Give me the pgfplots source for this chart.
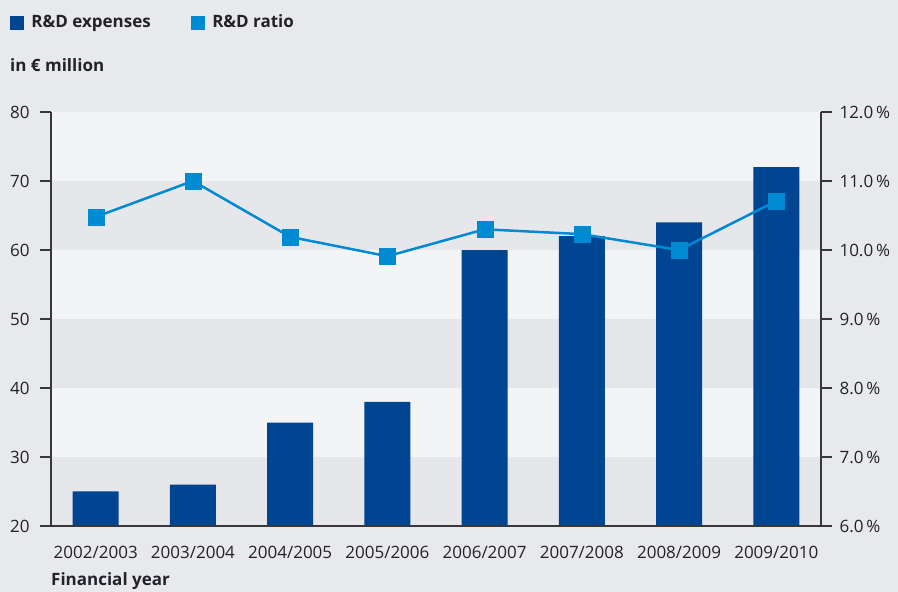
\documentclass[border=0pt]{standalone}
\usepackage{pgfplots}
\pgfplotsset{compat=1.18}
\usepackage{fontspec}
\setmainfont{Open Sans}
\definecolor{bgc}{RGB}{232,233,237}
\definecolor{bandlight}{RGB}{243,244,246}
\definecolor{banddark}{RGB}{230,231,235}
\definecolor{barblue}{RGB}{0,69,146}
\definecolor{ratioblue}{RGB}{0,138,210}
\definecolor{axisgray}{RGB}{55,55,60}
\definecolor{textc}{RGB}{34,34,40}
\pgfplotsset{
  common/.style={
    at={(51pt,66pt)}, anchor=south west,
    scale only axis, width=770pt, height=414pt,
    xmin=-0.46, xmax=7.46,
    axis line style={axisgray, line width=1.5pt, -},
    tick align=outside,
    major tick length=11pt,
    tick style={axisgray, line width=1.5pt},
    /pgf/number format/assume math mode=true,
    tick label style={text=textc},
  }
}
\begin{document}
\begin{tikzpicture}[font=\fontsize{17}{20}\selectfont]
\fill[bgc] (0,0) rectangle (898pt,592pt);
\begin{axis}[
  common,
  ymin=20, ymax=80,
  axis y line*=left, axis x line*=bottom,
  ytick={20,30,...,80},
  xtick={0,...,7},
  xticklabels={2002/2003,2003/2004,2004/2005,2005/2006,2006/2007,2007/2008,2008/2009,2009/2010},
  x tick style={draw=none},
  xticklabel style={yshift=-6pt},
  yticklabel style={xshift=-7pt},
  axis background/.style={fill=bandlight},
  axis on top,
]
\fill[banddark] (axis cs:-0.46,20) rectangle (axis cs:7.46,30);
\fill[banddark] (axis cs:-0.46,40) rectangle (axis cs:7.46,50);
\fill[banddark] (axis cs:-0.46,60) rectangle (axis cs:7.46,70);
\addplot[ybar, bar width=46pt, fill=barblue, draw=none] coordinates {
  (0,25) (1,26) (2,35) (3,38) (4,60) (5,62) (6,64) (7,72)
};
\end{axis}
\begin{axis}[
  common,
  ymin=6, ymax=12,
  axis y line*=right, axis x line=none,
  ytick={6,7,...,12},
  yticklabel={\pgfmathprintnumber[fixed,fixed zerofill,precision=1]{\tick}\,\%},
  yticklabel style={xshift=4pt},
  legend image code/.code={\fill[#1] (0pt,-6.5pt) rectangle (13pt,6.5pt);},
  legend columns=2,
  legend style={draw=none, fill=none, inner sep=0pt, outer sep=0pt,
    at={(axis description cs:-0.0532,1.239)}, anchor=north west,
    font=\fontsize{17}{20}\selectfont\bfseries, text=textc,
    /tikz/every odd column/.style={column sep=6pt},
    /tikz/every even column/.style={column sep=38pt}},
]
\addlegendimage{barblue}
\addlegendentry{R\&D expenses}
\addlegendimage{ratioblue}
\addlegendentry{R\&D ratio}
\addplot[ratioblue, line width=2.5pt, mark=square*, mark size=8pt,
  mark options={solid, line width=0.1pt}, forget plot] coordinates {
  (0,10.48) (1,11.0) (2,10.19) (3,9.91) (4,10.3) (5,10.23) (6,10.0) (7,10.71)
};
\end{axis}
\node[anchor=base west, inner sep=0pt, font=\fontsize{17}{20}\selectfont\bfseries, text=textc] at (10pt,520pt) {in € million};
\node[anchor=base west, inner sep=0pt, font=\fontsize{17}{20}\selectfont\bfseries, text=textc] at (51pt,6pt) {Financial year};
\end{tikzpicture}
\end{document}
